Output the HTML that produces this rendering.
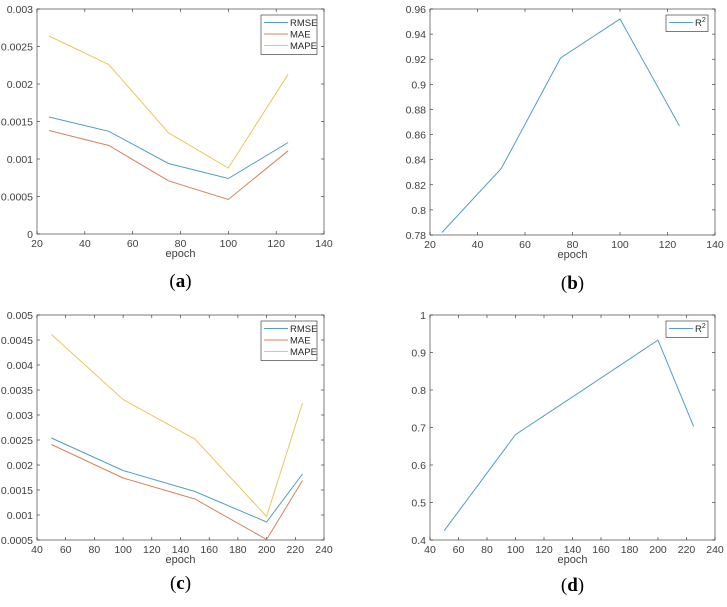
<!DOCTYPE html>
<html><head><meta charset="utf-8"><style>
html,body{margin:0;padding:0;background:#fff;}
svg{display:block;font-family:"Liberation Sans",sans-serif;}
</style></head><body>
<svg id="fig" width="727" height="607" viewBox="0 0 727 607"></svg>
<script>
// Panel (a)
const epochsA = [25, 50, 75, 100, 125];
const rmseA = [0.00156, 0.00137, 0.00094, 0.00074, 0.00122];
const maeA = [0.00138, 0.00118, 0.00071, 0.00046, 0.00111];
const mapeA = [0.00264, 0.00226, 0.00135, 0.00088, 0.00213];
const xTicksA = [20, 40, 60, 80, 100, 120, 140];
const yTicksA = [0, 0.0005, 0.001, 0.0015, 0.002, 0.0025, 0.003];
const yLabelsA = ["0", "0.0005", "0.001", "0.0015", "0.002", "0.0025", "0.003"];
// Panel (b)
const epochsB = [25, 50, 75, 100, 125];
const r2B = [0.782, 0.833, 0.921, 0.952, 0.867];
const yTicksB = [0.78, 0.8, 0.82, 0.84, 0.86, 0.88, 0.9, 0.92, 0.94, 0.96];
const yLabelsB = ["0.78", "0.8", "0.82", "0.84", "0.86", "0.88", "0.9", "0.92", "0.94", "0.96"];
// Panel (c)
const epochsC = [50, 100, 150, 200, 225];
const rmseC = [0.00254, 0.00189, 0.00147, 0.00086, 0.00182];
const maeC = [0.00241, 0.00174, 0.00132, 0.00051, 0.00169];
const mapeC = [0.00461, 0.00331, 0.00252, 0.00097, 0.00324];
const xTicksC = [40, 60, 80, 100, 120, 140, 160, 180, 200, 220, 240];
const yTicksC = [0.0005, 0.001, 0.0015, 0.002, 0.0025, 0.003, 0.0035, 0.004, 0.0045, 0.005];
const yLabelsC = ["0.0005", "0.001", "0.0015", "0.002", "0.0025", "0.003", "0.0035", "0.004", "0.0045", "0.005"];
// Panel (d)
const epochsD = [50, 100, 150, 200, 225];
const r2D = [0.425, 0.681, 0.807, 0.933, 0.703];
const yTicksD = [0.4, 0.5, 0.6, 0.7, 0.8, 0.9, 1];
const yLabelsD = ["0.4", "0.5", "0.6", "0.7", "0.8", "0.9", "1"];

const NS = "http://www.w3.org/2000/svg";
const svg = document.getElementById("fig");
function mk(tag, attrs, parent, text) {
  const e = document.createElementNS(NS, tag);
  for (const k in attrs) e.setAttribute(k, attrs[k]);
  if (text !== undefined) e.textContent = text;
  (parent || svg).appendChild(e);
  return e;
}
const C1 = "#4f9fc8", C2 = "#d9825b", C3 = "#e8c85a";

function panel(opt) {
  const g = mk("g", {});
  
  
  const {L, R, T, B, xMin, xMax, yMin, yMax} = opt;
  const sx = v => L + (v - xMin) / (xMax - xMin) * (R - L);
  const sy = v => B - (v - yMin) / (yMax - yMin) * (B - T);
  const box = mk("rect", {x: L, y: T, width: R - L, height: B - T, fill: "#fff", stroke: "#262626", "stroke-width": 0.6}, g);
  
  
  opt.xTicks.forEach(t => {
    const x = sx(t);
    mk("line", {x1: x, x2: x, y1: B, y2: B - 3, stroke: "#262626", "stroke-width": 0.6}, g);
    mk("line", {x1: x, x2: x, y1: T, y2: T + 3, stroke: "#262626", "stroke-width": 0.6}, g);
    const tl = mk("text", {x: x, y: B + 13, "font-size": 10.5, fill: "#404040", "text-anchor": "middle"}, g, String(t));
    
    
  });
  opt.yTicks.forEach((t, i) => {
    const y = sy(t);
    mk("line", {x1: L, x2: L + 3, y1: y, y2: y, stroke: "#262626", "stroke-width": 0.6}, g);
    mk("line", {x1: R, x2: R - 3, y1: y, y2: y, stroke: "#262626", "stroke-width": 0.6}, g);
    const tl = mk("text", {x: L - 4, y: y + 4, "font-size": 10.5, fill: "#404040", "text-anchor": "end"}, g, opt.yLabels[i]);
    
    
  });
  const xt = mk("text", {x: (L + R) / 2, y: B + 23, "font-size": 11, fill: "#404040", "text-anchor": "middle"}, g, "epoch");
  
  
  opt.series.forEach(s => {
    const pts = opt.xs.map((x, i) => sx(x).toFixed(1) + "," + sy(s.vals[i]).toFixed(1)).join(" ");
    const pl = mk("polyline", {points: pts, fill: "none", stroke: s.color, "stroke-width": 1}, g);
    
    
  });
  const lg = mk("g", {}, g);
  
  
  const lw = opt.legW, lh = opt.series.length * 11.5 + 5;
  mk("rect", {x: R - lw - 7, y: T + 6, width: lw, height: lh, fill: "#fff", stroke: "#262626", "stroke-width": 0.6}, lg);
  opt.series.forEach((s, i) => {
    const y = T + 13.5 + i * 11.5;
    const lx = R - lw - 7;
    mk("line", {x1: lx + 3, x2: lx + 27, y1: y, y2: y, stroke: s.color, "stroke-width": 1}, lg);
    const t = mk("text", {x: lx + 29, y: y + 3.5, "font-size": 9.5, fill: "#262626"}, lg);
    
    
    if (s.label === "R2") {
      t.textContent = "R";
      mk("tspan", {dy: -4, "font-size": 7}, t, "2");
    } else t.textContent = s.label;
  });
  const cap = mk("text", {x: (L + R) / 2, y: opt.capY, "font-size": 19, fill: "#000", "text-anchor": "middle", "font-family": "Liberation Serif, serif"}, g);
  
  
  cap.appendChild(document.createTextNode("("));
  mk("tspan", {"font-weight": "bold"}, cap, opt.cap);
  cap.appendChild(document.createTextNode(")"));
}

panel({name: "chart-a", L: 37, R: 324, T: 9, B: 234, xMin: 20, xMax: 140, yMin: 0, yMax: 0.003,
  xTicks: xTicksA, yTicks: yTicksA, yLabels: yLabelsA, xs: epochsA, legW: 56, capY: 287, cap: "a",
  series: [{id: "rmse", label: "RMSE", vals: rmseA, color: C1}, {id: "mae", label: "MAE", vals: maeA, color: C2}, {id: "mape", label: "MAPE", vals: mapeA, color: C3}]});
panel({name: "chart-b", L: 430, R: 715, T: 9, B: 235, xMin: 20, xMax: 140, yMin: 0.78, yMax: 0.96,
  xTicks: xTicksA, yTicks: yTicksB, yLabels: yLabelsB, xs: epochsB, legW: 42, capY: 289, cap: "b",
  series: [{id: "r2", label: "R2", vals: r2B, color: C1}]});
panel({name: "chart-c", L: 37, R: 324, T: 315, B: 540, xMin: 40, xMax: 240, yMin: 0.0005, yMax: 0.005,
  xTicks: xTicksC, yTicks: yTicksC, yLabels: yLabelsC, xs: epochsC, legW: 56, capY: 589, cap: "c",
  series: [{id: "rmse", label: "RMSE", vals: rmseC, color: C1}, {id: "mae", label: "MAE", vals: maeC, color: C2}, {id: "mape", label: "MAPE", vals: mapeC, color: C3}]});
panel({name: "chart-d", L: 430, R: 715, T: 315, B: 540, xMin: 40, xMax: 240, yMin: 0.4, yMax: 1,
  xTicks: xTicksC, yTicks: yTicksD, yLabels: yLabelsD, xs: epochsD, legW: 42, capY: 591, cap: "d",
  series: [{id: "r2", label: "R2", vals: r2D, color: C1}]});
</script>
</body></html>
